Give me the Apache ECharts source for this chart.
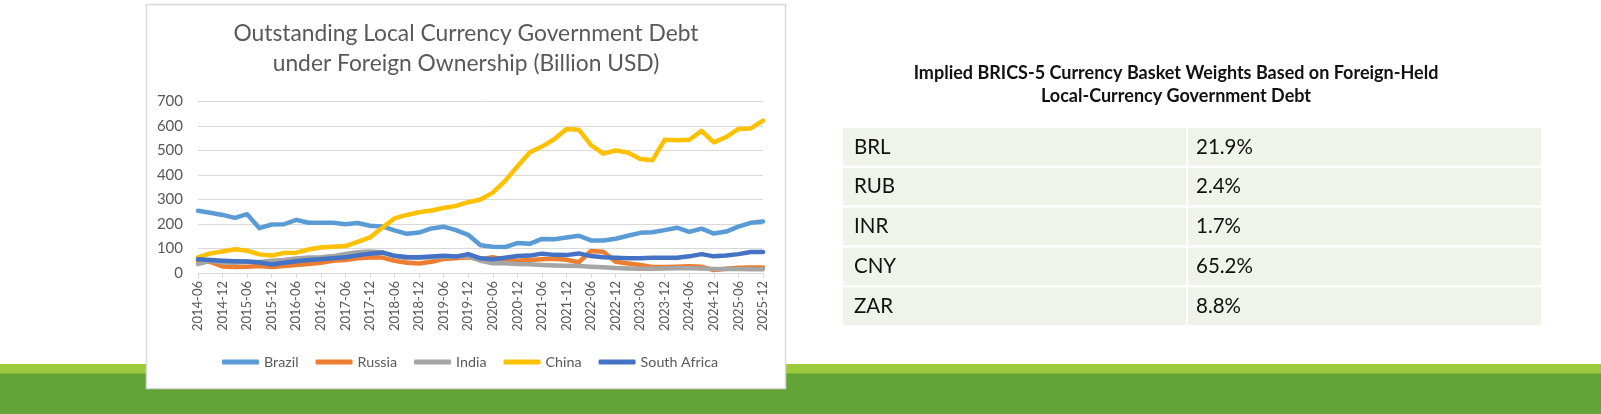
<!DOCTYPE html>
<html>
<head>
<meta charset="UTF-8">
<title>Outstanding Local Currency Government Debt under Foreign Ownership</title>
<style>
  html, body { margin: 0; padding: 0; background: #fff; }
  #main { width: 1601px; height: 414px; }
</style>
<script src="https://cdn.jsdelivr.net/npm/echarts@6/dist/echarts.min.js"></script>
</head>
<body>
<div id="main"></div>
<script>
// quarterly, 2014-06 .. 2025-12 (billion USD)
var quarters = [
  '2014-06', '2014-09', '2014-12',
  '2015-03', '2015-06', '2015-09', '2015-12',
  '2016-03', '2016-06', '2016-09', '2016-12',
  '2017-03', '2017-06', '2017-09', '2017-12',
  '2018-03', '2018-06', '2018-09', '2018-12',
  '2019-03', '2019-06', '2019-09', '2019-12',
  '2020-03', '2020-06', '2020-09', '2020-12',
  '2021-03', '2021-06', '2021-09', '2021-12',
  '2022-03', '2022-06', '2022-09', '2022-12',
  '2023-03', '2023-06', '2023-09', '2023-12',
  '2024-03', '2024-06', '2024-09', '2024-12',
  '2025-03', '2025-06', '2025-09', '2025-12'
];

var brazil = [254, 246, 237, 225, 240, 183, 198, 199, 217, 205, 205, 205, 199, 204, 193, 190,
  174, 160, 165, 182, 189, 175, 156, 113, 107, 106, 122, 119, 139, 138, 145, 152,
  133, 133, 140, 152, 164, 166, 175, 185, 168, 181, 161, 169, 189, 205, 210];
var russia = [50, 45, 27, 24, 26, 29, 24, 29, 33, 37, 42, 50, 53, 60, 63, 63,
  50, 42, 39, 46, 57, 60, 64, 56, 64, 53, 50, 53, 56, 58, 54, 44,
  90, 87, 46, 39, 33, 25, 24, 26, 28, 26, 12, 17, 21, 22, 22];
var india = [36, 50, 43, 42, 46, 45, 50, 53, 59, 63, 64, 69, 78, 85, 88, 85,
  70, 60, 62, 64, 65, 66, 68, 50, 40, 40, 37, 36, 33, 31, 30, 29,
  26, 23, 20, 18, 17, 17, 18, 19, 19, 18, 16, 16, 16, 15, 15];
var china = [64, 80, 88, 97, 91, 76, 71, 82, 83, 96, 104, 107, 110, 127, 145, 185,
  223, 237, 248, 255, 265, 274, 289, 300, 328, 376, 435, 492, 516, 546, 588, 585,
  522, 487, 500, 492, 465, 460, 544, 542, 544, 580, 533, 555, 588, 590, 622];
var southAfrica = [56, 53, 50, 48, 47, 43, 35, 42, 48, 53, 56, 60, 64, 72, 79, 83,
  70, 65, 64, 67, 70, 67, 77, 60, 56, 62, 69, 71, 79, 74, 73, 80,
  69, 64, 62, 60, 60, 62, 62, 62, 68, 77, 68, 71, 77, 86, 86];

var yTicks = [0, 100, 200, 300, 400, 500, 600, 700];

// basket weights table
var currencies = ['BRL', 'RUB', 'INR', 'CNY', 'ZAR'];
var weights = ['21.9%', '2.4%', '1.7%', '65.2%', '8.8%'];

var colors = ['#5B9BD5', '#ED7D31', '#A5A5A5', '#FFC000', '#4472C4'];
var names = ['Brazil', 'Russia', 'India', 'China', 'South Africa'];
var values = [brazil, russia, india, china, southAfrica];

var chart = echarts.init(document.getElementById('main'));

// slide background + chart frame
var graphics = [
  { type: 'rect', shape: { x: 0, y: 364, width: 1601, height: 10 }, style: { fill: '#9BCB3C' } },
  { type: 'rect', shape: { x: 0, y: 373.5, width: 1601, height: 41 }, style: { fill: '#62A435' } },
  { type: 'rect', shape: { x: 146.5, y: 4.5, width: 639, height: 384 },
    style: { fill: '#fff', stroke: '#D9D9D9', lineWidth: 1.5 } },
  { type: 'text', style: {
      text: 'Outstanding Local Currency Government Debt\nunder Foreign Ownership (Billion USD)',
      x: 466, y: 19, align: 'center', verticalAlign: 'top',
      font: '22.8px Lato', lineHeight: 30, fill: '#595959' } },
  { type: 'text', style: {
      text: 'Implied BRICS-5 Currency Basket Weights Based on Foreign-Held\nLocal-Currency Government Debt',
      x: 1176, y: 62, align: 'center', verticalAlign: 'top',
      font: 'bold 18px Lato', lineHeight: 23, fill: '#111' } }
];

// table on the right
var tableX = 843, tableY = 128, rowH = 39.8, col1W = 344, col2W = 354;
currencies.forEach(function (cur, i) {
  var ry = tableY + i * rowH;
  graphics.push({ type: 'rect', shape: { x: tableX, y: ry, width: col1W - 1, height: rowH - 2 }, style: { fill: '#EEF4E9' } });
  graphics.push({ type: 'rect', shape: { x: tableX + col1W + 1, y: ry, width: col2W - 1, height: rowH - 2 }, style: { fill: '#EEF4E9' } });
  graphics.push({ type: 'text', style: { text: cur, x: tableX + 11, y: ry + rowH / 2 - 1,
    align: 'left', verticalAlign: 'middle', font: '20.5px Lato', fill: '#111' } });
  graphics.push({ type: 'text', style: { text: weights[i], x: tableX + col1W + 9, y: ry + rowH / 2 - 1,
    align: 'left', verticalAlign: 'middle', font: '20.5px Lato', fill: '#111' } });
});

var option = {
  animation: false,
  color: colors,
  graphic: graphics,
  legend: {
    data: names,
    left: 222,
    top: 355,
    padding: 0,
    itemWidth: 37,
    itemHeight: 5,
    itemGap: 17,
    icon: 'roundRect',
    textStyle: { fontFamily: 'Lato', fontSize: 14.3, color: '#595959' }
  },
  grid: { left: 198, right: 838, top: 101.5, bottom: 141, containLabel: false },
  xAxis: {
    type: 'category',
    data: quarters,
    boundaryGap: false,
    axisLine: { lineStyle: { color: '#D9D9D9', width: 1 } },
    axisTick: { show: true, interval: 1, length: 5, lineStyle: { color: '#D9D9D9' } },
    axisLabel: { interval: 1, rotate: 90, margin: 8, fontFamily: 'Lato', fontSize: 13, color: '#595959' },
    splitLine: { show: false }
  },
  yAxis: {
    type: 'value',
    min: yTicks[0],
    max: yTicks[yTicks.length - 1],
    interval: 100,
    axisLine: { show: false },
    axisTick: { show: false },
    axisLabel: { margin: 15, fontFamily: 'Lato', fontSize: 15, color: '#595959' },
    splitLine: { lineStyle: { color: '#D9D9D9', width: 1 } }
  },
  series: names.map(function (n, k) {
    return {
      name: n,
      type: 'line',
      data: values[k],
      symbol: 'none',
      showSymbol: false,
      lineStyle: { width: 4.5, color: colors[k], cap: 'round', join: 'round' }
    };
  })
};

chart.setOption(option);
</script>
</body>
</html>
